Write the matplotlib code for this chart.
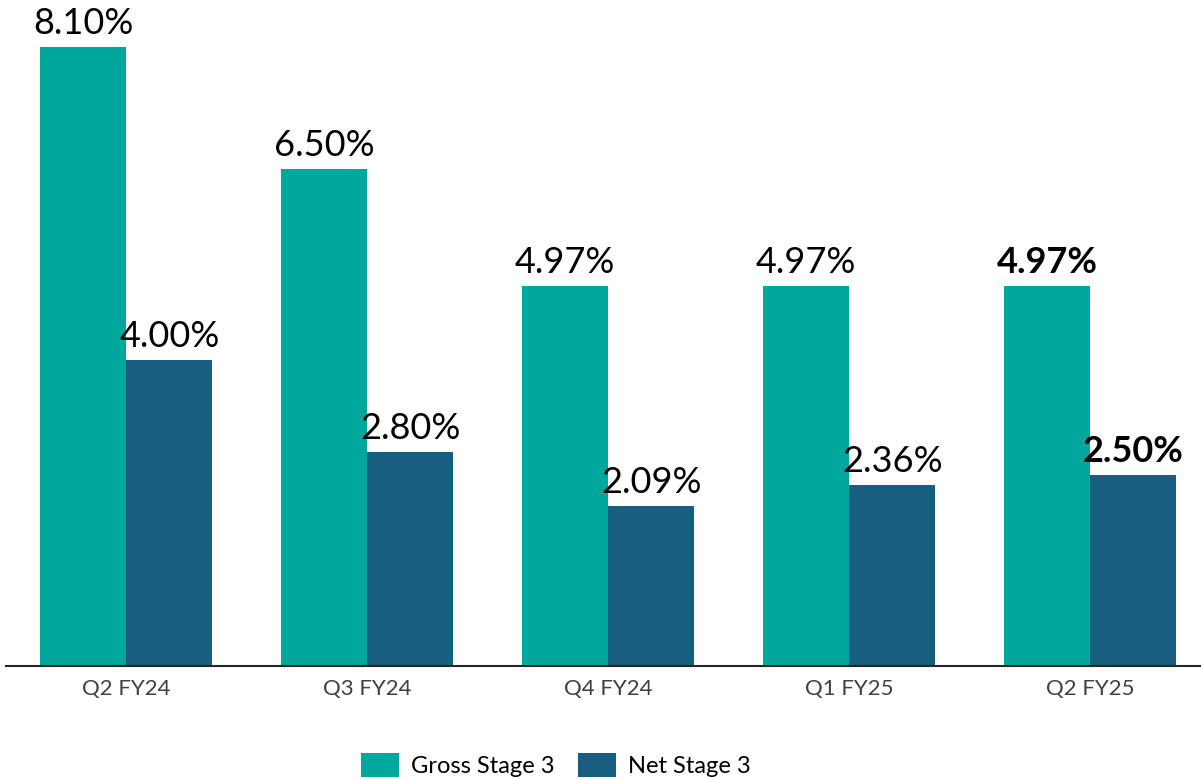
import matplotlib
matplotlib.use("Agg")
import matplotlib.pyplot as plt
import numpy as np

categories = ["Q2 FY24", "Q3 FY24", "Q4 FY24", "Q1 FY25", "Q2 FY25"]
gross = [8.10, 6.50, 4.97, 4.97, 4.97]
net = [4.00, 2.80, 2.09, 2.36, 2.50]
series_names = ["Gross Stage 3", "Net Stage 3"]

plt.rcParams['font.family'] = ['Lato', 'DejaVu Sans']

fig = plt.figure(figsize=(12.01, 7.79), dpi=100)
ax = fig.add_axes([6/1201, (779-665.5)/779, 1 - 6/1201, 665.5/779])

x = np.arange(len(categories))
w = 0.357
c_gross = "#00A79D"
c_net = "#175E80"
b1 = ax.bar(x - w/2, gross, w, color=c_gross, label=series_names[0])
b2 = ax.bar(x + w/2, net, w, color=c_net, label=series_names[1])

n = len(categories)
for bars, vals in ((b1, gross), (b2, net)):
    for i, (rect, v) in enumerate(zip(bars, vals)):
        ax.annotate(f"{v:.2f}%", (rect.get_x() + rect.get_width()/2, v),
                    xytext=(0, 5), textcoords="offset points", ha="center", va="bottom",
                    fontsize=26, fontweight="bold" if i == n-1 else "normal", color="black")

ax.set_xlim(-0.5, 4.46)
ax.set_ylim(0, 8.72)
ax.set_xticks(x)
ax.set_xticklabels(categories, fontsize=16, color="#404040")
ax.tick_params(axis="x", length=0, pad=10)
ax.set_yticks([])
for s in ["top", "right", "left"]:
    ax.spines[s].set_visible(False)
ax.spines["bottom"].set_color("#262626")
ax.spines["bottom"].set_linewidth(1.5)
ax.patch.set_alpha(0)

fig.legend(handles=[b1, b2], labels=series_names, loc="center", bbox_to_anchor=(556/1201, 14/779),
           ncol=2, frameon=False, fontsize=17, handlelength=1.6, handleheight=1.2,
           columnspacing=1.0, handletextpad=0.5)

fig.savefig("out.png", dpi=100)
